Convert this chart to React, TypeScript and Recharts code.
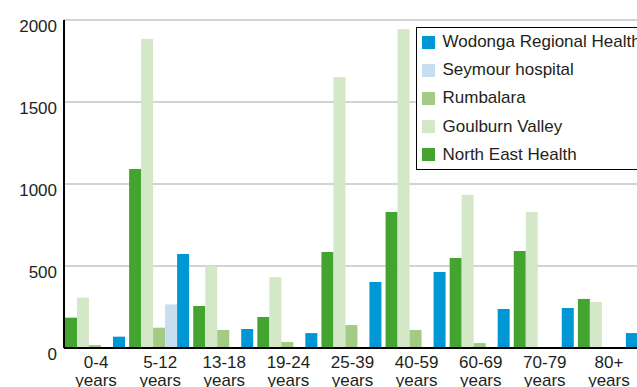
import React from "react";
import { BarChart, Bar, XAxis, YAxis, CartesianGrid, Legend } from "recharts";

const categories = ["0-4", "5-12", "13-18", "19-24", "25-39", "40-59", "60-69", "70-79", "80+"];
const unitLabel = "years";
const northEast = [185, 1091, 256, 189, 585, 829, 549, 591, 299];
const goulburn = [307, 1884, 500, 433, 1652, 1945, 933, 829, 281];
const rumbalara = [18, 124, 110, 37, 140, 110, 30, 6, 0];
const seymour = [0, 266, 5, 0, 0, 0, 0, 0, 0];
const wodonga = [69, 573, 116, 91, 402, 463, 238, 244, 91];
const yTicks = [0, 500, 1000, 1500, 2000];

const series = [
  { key: "ne", name: "North East Health", color: "#43a52f", values: northEast },
  { key: "gv", name: "Goulburn Valley", color: "#d4e7c6", values: goulburn },
  { key: "rb", name: "Rumbalara", color: "#a2cb85", values: rumbalara },
  { key: "sh", name: "Seymour hospital", color: "#c7ddf0", values: seymour },
  { key: "wr", name: "Wodonga Regional Health", color: "#0097d7", values: wodonga },
];
const seriesOrder = series.map((s) => s.name);

const data = categories.map((c, i) => {
  const row: any = { cat: c };
  series.forEach((s) => (row[s.key] = s.values[i]));
  return row;
});

const FONT = "'Liberation Sans', Arial, sans-serif";
const TEXT = "#231f20";

const XTick = (props: any) => {
  const { x, y, payload } = props;
  return (
    <text x={x} y={y} textAnchor="middle" fontFamily={FONT} fontSize={17} fill={TEXT}>
      <tspan x={x} y={y + 20}>{payload.value}</tspan>
      <tspan x={x} y={y + 37.5}>{unitLabel}</tspan>
    </text>
  );
};

const YTick = (props: any) => {
  const { x, y, payload } = props;
  return (
    <text x={x} y={y + 12} textAnchor="end" fontFamily={FONT} fontSize={17} fill={TEXT}>
      {payload.value}
    </text>
  );
};

const LegendBox = (props: any) => {
  const items = [...(props.payload || [])]
    .sort((a: any, b: any) => seriesOrder.indexOf(a.value) - seriesOrder.indexOf(b.value))
    .reverse();
  return (
    <div
      style={{
        border: "1.5px solid #000",
        background: "#fff",
        width: 240,
        boxSizing: "border-box",
        paddingLeft: 4.5,
        fontFamily: FONT,
        fontSize: 17,
        color: TEXT,
      }}
    >
      {items.map((it: any) => (
        <div key={it.value} style={{ display: "flex", alignItems: "center", height: 28.2 }}>
          <div style={{ width: 13, height: 13, background: it.color, marginRight: 8 }} />
          <span style={{ whiteSpace: "nowrap" }}>{it.value}</span>
        </div>
      ))}
    </div>
  );
};

export default function App() {
  return (
    <div style={{ position: "absolute", left: 0, top: 0, width: 637, height: 387, overflow: "hidden", background: "#fff" }}>
      <BarChart
        width={660}
        height={387}
        data={data}
        margin={{ top: 20, right: 19, bottom: 0, left: 0 }}
        barCategoryGap={1}
        barGap={0}
      >
        <CartesianGrid vertical={false} stroke="#c4c4c4" strokeWidth={1.3} />
        <XAxis
          dataKey="cat"
          height={39}
          tickLine={false}
          tickSize={0}
          tickMargin={0}
          axisLine={{ stroke: "#000", strokeWidth: 2 }}
          tick={<XTick />}
          interval={0}
        />
        <YAxis
          width={64}
          domain={[0, 2000]}
          ticks={yTicks}
          tickLine={false}
          tickSize={0}
          tickMargin={7}
          axisLine={{ stroke: "#000", strokeWidth: 2 }}
          tick={<YTick />}
          interval={0}
        />
        <Legend
          layout="horizontal"
          verticalAlign="middle"
          align="center"
          content={<LegendBox />}
          wrapperStyle={{ position: "absolute", left: 416, top: 27, width: 240 }}
        />
        {series.map((s) => (
          <Bar key={s.key} dataKey={s.key} name={s.name} fill={s.color} isAnimationActive={false} />
        ))}
      </BarChart>
    </div>
  );
}
